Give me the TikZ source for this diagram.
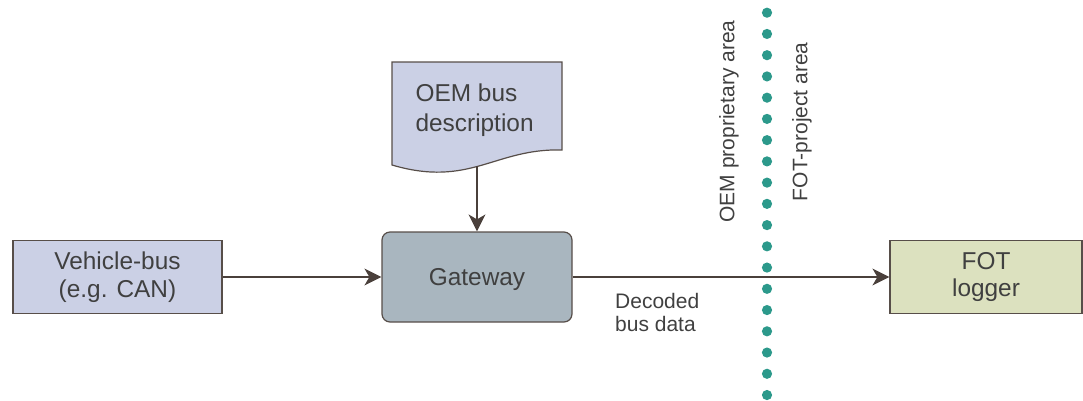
\documentclass[tikz,border=0pt]{standalone}
\usepackage{fontspec}
\setmainfont{Liberation Sans}
\usetikzlibrary{arrows.meta}

\definecolor{buslav}{HTML}{CBD0E5}
\definecolor{gatewaygray}{HTML}{A9B6BF}
\definecolor{loggergreen}{HTML}{DCE1BF}
\definecolor{edgegray}{HTML}{574E49}
\definecolor{arrowbrown}{HTML}{4A403B}
\definecolor{dotteal}{HTML}{2C998B}
\definecolor{textgray}{HTML}{404040}

\begin{document}
\begin{tikzpicture}[x=1pt, y=-1pt,
    box/.style={draw=edgegray, line width=1.2pt, text=textgray, align=center, inner sep=0pt,
      font=\fontsize{24.4}{27.5}\selectfont},
    flow/.style={draw=arrowbrown, line width=1.3pt, -{Stealth[length=17pt, width=17pt, inset=5pt]}},
    note/.style={text=textgray, inner sep=0pt, font=\fontsize{21}{23.7}\selectfont}]
      \useasboundingbox (0,0) rectangle (1083,400);
      \node[box, fill=buslav, minimum width=209pt, minimum height=73pt] (vbus) at (117.5,277) {Vehicle-bus\\(e.g. CAN)};
      \node[box, fill=gatewaygray, rounded corners=8pt, minimum width=190pt, minimum height=90pt, text depth=0pt] (gateway) at (477,277) {Gateway};
      \node[box, fill=loggergreen, minimum width=192pt, minimum height=73pt] (fot) at (986,277) {FOT\\logger};
      \draw[draw=edgegray, line width=1.2pt, fill=buslav] (392,62) -- (562,62) -- (562,150)
        .. controls (495,148) and (470,188) .. (392,165) -- cycle;
      \node[box, draw=none, align=left, anchor=west, font=\fontsize{24.4}{30}\selectfont] (desc) at (415,110.4) {OEM bus\\description};
      \coordinate (descbot) at (477,166);
      \foreach \i in {0,...,18}
        \fill[dotteal] (767,12.7+21.24*\i) circle (5.1);
      \draw[flow] (descbot) -- (gateway.north);
      \draw[flow] (vbus.east) -- (gateway.west);
      \draw[flow] (gateway.east) -- (fot.west);
      \node[note, align=left, anchor=north west] (decoded) at (615,292.7) {Decoded\\bus data};
      \node[note, rotate=90] (oemarea) at (728.9,121.5) {OEM proprietary area};
      \node[note, rotate=90] (fotarea) at (801.9,121.7) {FOT-project area};
    \end{tikzpicture}
\end{document}
